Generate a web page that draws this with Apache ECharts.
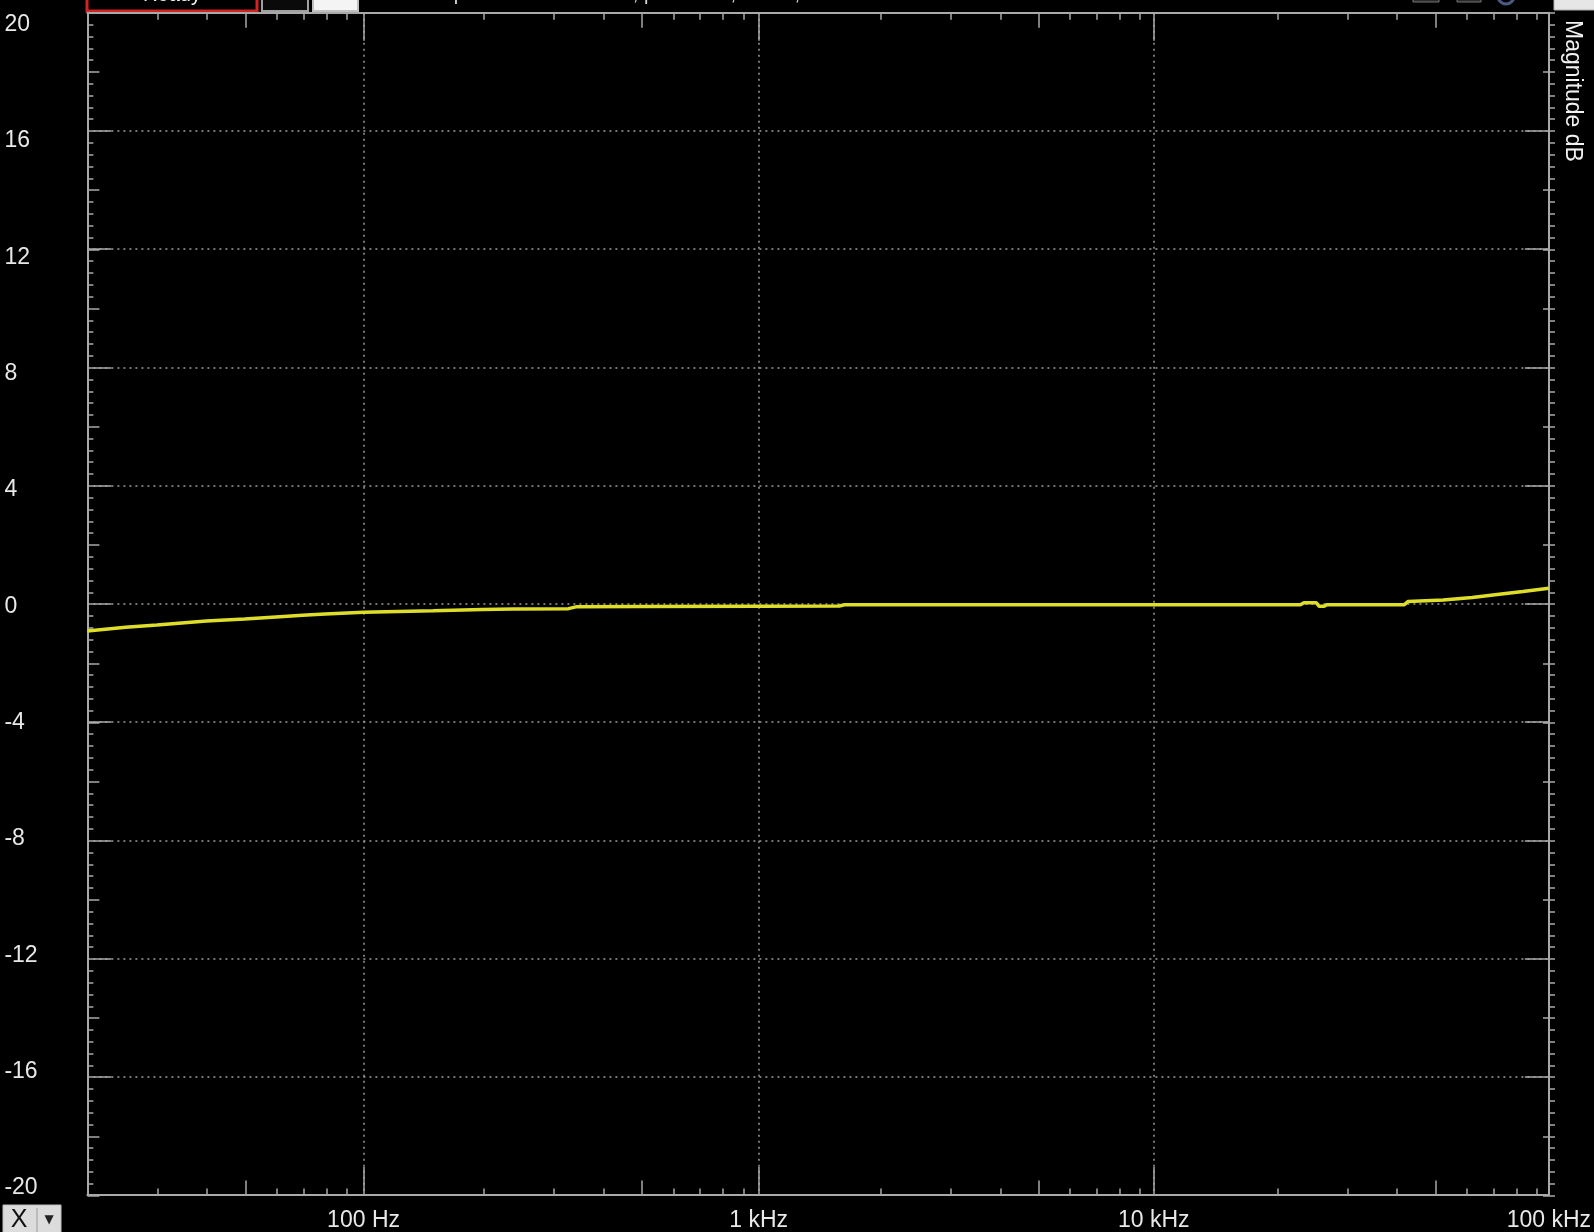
<!DOCTYPE html>
<html><head><meta charset="utf-8">
<script src="https://cdn.jsdelivr.net/npm/echarts@6/dist/echarts.min.js"></script>
<style>html,body{margin:0;padding:0;background:#000;}#c{width:1594px;height:1232px;}</style>
</head><body><div id="c"></div>
<script>
// ---- data ----
const freqHz = [20, 25, 30, 40, 50, 60, 70, 80, 100, 150, 200, 240, 330, 345, 500, 1000, 1600, 1650, 3000, 10000, 23500, 24000, 25800, 26200, 27000, 27400, 43000, 44000, 54000, 64000, 74000, 86000, 100000];
const magnitudeDb = [-0.92, -0.79, -0.71, -0.58, -0.51, -0.44, -0.38, -0.34, -0.28, -0.23, -0.19, -0.17, -0.16, -0.10, -0.09, -0.08, -0.07, -0.03, -0.03, -0.03, -0.03, 0.04, 0.04, -0.08, -0.08, -0.03, -0.03, 0.08, 0.13, 0.22, 0.32, 0.42, 0.53];
const xLabelValues = [100, 1000, 10000, 100000];
const xLabelTexts = ['100 Hz', '1 kHz', '10 kHz', '100 kHz'];
const xMajorTicks = [100, 1000, 10000];
const xMidTicks = [50, 500, 5000, 50000];
const xMinorTicks = [30, 40, 60, 70, 80, 90, 200, 300, 400, 600, 700, 800, 900, 2000, 3000, 4000, 6000, 7000, 8000, 9000, 20000, 30000, 40000, 60000, 70000, 80000, 90000];
const yMin = -20, yMax = 20, yMajorStep = 4, yMidStep = 2, yMinorStep = 0.4;
const yAxisTitle = 'Magnitude dB';

// ---- style ----
const AX = '#a9a9a9';
const GRIDC = '#9c9c9c';
const TXT = '#e8e8e8';
const LBLFONT = '"Liberation Sans", Arial, sans-serif';
const rect = {left: 87.4, right: 39, top: 12.8, bottom: 36.5};

const chart = echarts.init(document.getElementById('c'), null, {renderer: 'canvas'});

function logX(grid, pos, ticks, len, opts) {
  return Object.assign({
    gridIndex: grid, type: 'log', logBase: 10, min: 20, max: 100000, position: pos,
    axisLine: {show: false, onZero: false},
    axisTick: {show: true, inside: true, length: len, customValues: ticks, lineStyle: {color: AX, width: 1.5}},
    axisLabel: {show: false},
    splitLine: {show: false}
  }, opts || {});
}
function valY(grid, pos, step, len, opts) {
  return Object.assign({
    gridIndex: grid, type: 'value', min: yMin, max: yMax, interval: step, position: pos,
    axisLine: {show: false, onZero: false},
    axisTick: {show: true, inside: true, length: len, lineStyle: {color: AX, width: 1.5}},
    axisLabel: {show: false},
    splitLine: {show: false}
  }, opts || {});
}

const axisLineOn = {show: true, onZero: false, lineStyle: {color: AX, width: 2}};
const dotted = {show: true, lineStyle: {color: GRIDC, width: 1.5, type: [2, 4]}};

const option = {
  backgroundColor: '#000',
  animation: false,
  grid: [
    Object.assign({}, rect),
    Object.assign({}, rect),
    Object.assign({}, rect),
    {left: 87.4, right: 39, top: 24.5, bottom: 44}
  ],
  xAxis: [
    logX(0, 'bottom', xMajorTicks, 28, {
      axisLine: axisLineOn,
      splitLine: dotted,
      axisLabel: {
        show: true, customValues: xLabelValues, color: TXT, fontSize: 23, fontFamily: LBLFONT, margin: 14,
        formatter: function (v) { const i = xLabelValues.findIndex(t => Math.abs(t - v) / t < 1e-6); return i >= 0 ? xLabelTexts[i] : ''; }
      }
    }),
    logX(0, 'top', xMajorTicks, 28, {axisLine: axisLineOn}),
    logX(1, 'bottom', xMidTicks, 15),
    logX(1, 'top', xMidTicks, 15),
    logX(2, 'bottom', xMinorTicks, 7),
    logX(2, 'top', xMinorTicks, 7),
    {gridIndex: 3, type: 'value', show: false}
  ],
  yAxis: [
    valY(0, 'left', yMajorStep, 24, {axisLine: axisLineOn, splitLine: dotted}),
    valY(0, 'right', yMajorStep, 24, {axisLine: axisLineOn}),
    valY(1, 'left', yMidStep, 12),
    valY(1, 'right', yMidStep, 12),
    valY(2, 'left', yMinorStep, 6),
    valY(2, 'right', yMinorStep, 6),
    {
      gridIndex: 3, type: 'value', min: yMin, max: yMax, interval: yMajorStep, position: 'left',
      axisLine: {show: false}, axisTick: {show: false}, splitLine: {show: false},
      axisLabel: {show: true, color: TXT, fontSize: 23, fontFamily: LBLFONT, align: 'left', margin: 83}
    }
  ],
  graphic: [
    // clipped toolbar at top
    {type: 'rect', shape: {x: 87, y: -14, width: 170, height: 25}, style: {fill: '#000', stroke: '#d22323', lineWidth: 3}},
    {type: 'text', x: 172, y: 5, style: {text: 'Ready', fill: '#f0f0f0', font: '20px "Liberation Sans"', align: 'center', verticalAlign: 'bottom'}},
    {type: 'rect', shape: {x: 262, y: -14, width: 46, height: 25}, style: {fill: '#0a0a0a', stroke: '#a0a0a0', lineWidth: 2}},
    {type: 'text', x: 285, y: 4, style: {text: 'Ch', fill: '#d8d830', font: '18px "Liberation Sans"', align: 'center', verticalAlign: 'bottom'}},
    {type: 'rect', shape: {x: 313, y: -14, width: 45, height: 25}, style: {fill: '#f4f4f4', stroke: '#c0c0c0', lineWidth: 2}},
    {type: 'text', x: 335, y: 4, style: {text: 'Ch', fill: '#3cc8e8', font: '18px "Liberation Sans"', align: 'center', verticalAlign: 'bottom'}},
    {type: 'text', x: 366, y: 4, style: {text: 'Sw. Sweep  20 Hz \u2192 100 kHz, pts/oct 48, 0 dBV, Fast', fill: '#d8d8d8', font: '20px "Liberation Sans"', align: 'left', verticalAlign: 'bottom'}},
    {type: 'rect', shape: {x: 1413, y: -8, width: 26, height: 10}, style: {fill: '#2a2a2a', stroke: '#777', lineWidth: 1}},
    {type: 'rect', shape: {x: 1457, y: -8, width: 24, height: 10}, style: {fill: '#2a2a2a', stroke: '#777', lineWidth: 1}},
    {type: 'circle', shape: {cx: 1506, cy: -4, r: 8}, style: {fill: 'none', stroke: '#4a5a80', lineWidth: 3}},
    {type: 'rect', shape: {x: 1554, y: -10, width: 42, height: 20}, style: {fill: '#e6e6e6', stroke: '#b0b0b0', lineWidth: 1}},
    // right vertical axis title
    {type: 'text', x: 1572, y: 20, rotation: -Math.PI / 2,
     style: {text: yAxisTitle, fill: '#f2f2f2', font: '23px "Liberation Sans"', align: 'left', verticalAlign: 'middle'}},
    // bottom-left X dropdown
    {type: 'rect', shape: {x: 3, y: 1205, width: 58, height: 28}, style: {fill: '#dcdcdc', stroke: '#bdbdbd', lineWidth: 1}},
    {type: 'line', shape: {x1: 37, y1: 1208, x2: 37, y2: 1232}, style: {stroke: '#9a9a9a', lineWidth: 1}},
    {type: 'text', x: 19, y: 1220, style: {text: 'X', fill: '#111', font: '25px "Liberation Sans"', align: 'center', verticalAlign: 'middle'}},
    {type: 'text', x: 49, y: 1220, style: {text: '\u25BC', fill: '#222', font: '12px "DejaVu Sans"', align: 'center', verticalAlign: 'middle'}}
  ],
  series: [{
    type: 'line', xAxisIndex: 0, yAxisIndex: 0,
    data: freqHz.map((f, i) => [f, magnitudeDb[i]]),
    showSymbol: false, symbol: 'none',
    lineStyle: {color: '#dede2a', width: 3.5},
    silent: true
  }]
};
chart.setOption(option);
</script>
</body></html>
